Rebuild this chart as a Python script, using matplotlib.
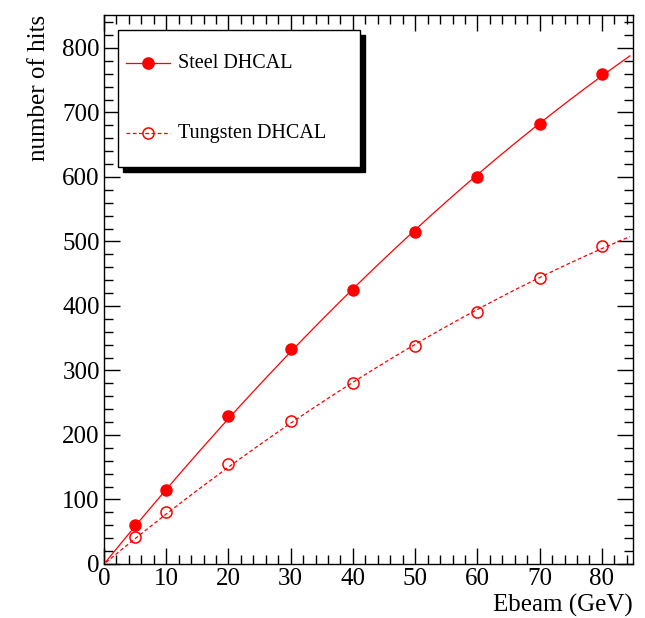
import numpy as np
import matplotlib
matplotlib.use("Agg")
import matplotlib.pyplot as plt
from matplotlib.patches import Rectangle
from matplotlib.lines import Line2D
from matplotlib.ticker import MultipleLocator

plt.rcParams['font.family'] = ['Liberation Serif', 'DejaVu Serif']

ebeam = [5, 10, 20, 30, 40, 50, 60, 70, 80]
steel_hits = [60, 115, 230, 333, 425, 515, 600, 682, 760]
tungsten_hits = [42, 80, 155, 221, 280, 338, 390, 443, 493]
series_labels = ["Steel DHCAL", "Tungsten DHCAL"]
x_label = "Ebeam (GeV)"
y_label = "number of hits"

fig = plt.figure(figsize=(6.45, 6.18), dpi=100)
ax = fig.add_axes([104/645, 1-564/618, 529/645, 549/618])
red = '#ff0000'

def fit_curve(x, y):
    x = np.asarray(x, float); y = np.asarray(y, float)
    A = np.vstack([x, x**2]).T
    c, *_ = np.linalg.lstsq(A, y, rcond=None)
    xx = np.linspace(0.3, 84.5, 300)
    return xx, c[0]*xx + c[1]*xx**2

xs, ys = fit_curve(ebeam, steel_hits)
ax.plot(xs, ys, color=red, lw=0.9, ls='-')
xt, yt = fit_curve(ebeam, tungsten_hits)
ax.plot(xt, yt, color=red, lw=0.9, ls=(0, (3, 2)))
ax.plot(ebeam, steel_hits, 'o', color=red, ms=8, mec=red, mfc=red, ls='none')
ax.plot(ebeam, tungsten_hits, 'o', color=red, ms=8, mec=red, mfc='none', mew=1.1, ls='none')

ax.set_xlim(0, 85)
ax.set_ylim(0, 851)
ax.xaxis.set_major_locator(MultipleLocator(10))
ax.xaxis.set_minor_locator(MultipleLocator(2))
ax.yaxis.set_major_locator(MultipleLocator(100))
ax.yaxis.set_minor_locator(MultipleLocator(20))
ax.tick_params(which='both', direction='in', top=True, right=True, width=1, labelsize=18, colors='black')
ax.tick_params(which='major', length=11.5, pad=3)
ax.tick_params(which='minor', length=6.5)
for s in ax.spines.values():
    s.set_linewidth(1)

ax.set_xlabel(x_label, fontsize=18, loc='right', labelpad=3)
ax.set_ylabel(y_label, fontsize=18, loc='top', labelpad=9)

# legend box with shadow
W, H = 529.0, 549.0
def fx(px): return (px - 104) / W
def fy(py): return (564 - py) / H
shadow = Rectangle((fx(123), fy(172)), fx(365) - fx(123), fy(35) - fy(172), transform=ax.transAxes,
                   facecolor='black', edgecolor='black', zorder=5)
box = Rectangle((fx(118), fy(167)), fx(360) - fx(118), fy(30) - fy(167), transform=ax.transAxes,
                facecolor='white', edgecolor='black', lw=1, zorder=6)
ax.add_patch(shadow); ax.add_patch(box)
entries = [(63, '-', red), (133, (0, (3, 2)), 'none')]
for (py, ls, mfc), lab in zip(entries, series_labels):
    ax.add_line(Line2D([fx(126), fx(170)], [fy(py), fy(py)], transform=ax.transAxes,
                       color=red, lw=0.9, ls=ls, zorder=7))
    ax.add_line(Line2D([fx(148)], [fy(py)], transform=ax.transAxes, marker='o', ms=8,
                       mec=red, mfc=mfc, mew=1.1, ls='none', zorder=8))
    ax.text(fx(178), fy(py), lab, transform=ax.transAxes, fontsize=14.5, va='center', ha='left', zorder=8)

fig.savefig('out.png', dpi=100)
